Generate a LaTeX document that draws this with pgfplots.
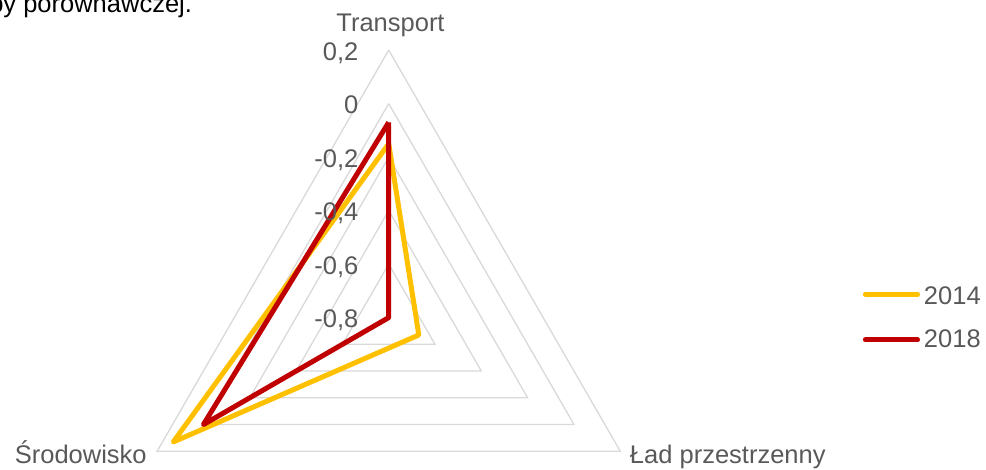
\documentclass[border=0pt]{standalone}
\usepackage{fontspec}
\setmainfont{Liberation Sans}
\usepackage{pgfplots}
\usepackage{pgfplotstable}
\pgfplotsset{compat=1.18}
\definecolor{cA}{HTML}{FFC000}
\definecolor{cB}{HTML}{C00000}
\definecolor{txt}{HTML}{595959}
\definecolor{gridc}{HTML}{D9D9D9}
\tikzset{lbl/.style={font=\fontsize{25.5}{30}\selectfont, text=txt, inner sep=0pt, outer sep=0pt}}
\pgfplotstableread{
angle v2014 v2018
90 -0.15 -0.07
-30 -0.67 -0.80
210 0.13 0.00
90 -0.15 -0.07
}\radardata
\begin{document}
\begin{tikzpicture}
\useasboundingbox (0,0) rectangle (986pt,470pt);
\clip (0,0) rectangle (986pt,470pt);
\begin{axis}[
  at={(0pt,0pt)}, anchor=south west,
  x=267.5pt, y=267.5pt,
  xmin=-1.4531, xmax=2.2329, ymin=-0.5697, ymax=1.1873,
  hide axis, clip=false,
]
\pgfplotsinvokeforeach{0.2,0.4,0.6,0.8,1.0}{
  \addplot[gridc, line width=1.3pt, line join=miter, data cs=polar] coordinates {(90,#1) (-30,#1) (210,#1) (90,#1)};
}
\addplot[cA, line width=5pt, line join=round] table[x expr={cos(\thisrow{angle})*(\thisrow{v2014}+0.8)}, y expr={sin(\thisrow{angle})*(\thisrow{v2014}+0.8)}] {\radardata};
\addplot[cB, line width=5pt, line join=round] table[x expr={cos(\thisrow{angle})*(\thisrow{v2018}+0.8)}, y expr={sin(\thisrow{angle})*(\thisrow{v2018}+0.8)}] {\radardata};
% radial tick labels
\node[lbl, anchor=base east] at (axis cs:-0.1136,{1.0-0.0374}) {0,2};
\node[lbl, anchor=base east] at (axis cs:-0.1136,{0.8-0.0374}) {0};
\node[lbl, anchor=base east] at (axis cs:-0.1136,{0.6-0.0374}) {-0,2};
\node[lbl, anchor=base east] at (axis cs:-0.1136,{0.4-0.0374}) {-0,4};
\node[lbl, anchor=base east] at (axis cs:-0.1136,{0.2-0.0374}) {-0,6};
\node[lbl, anchor=base east] at (axis cs:-0.1136,{0.0-0.0374}) {-0,8};
% category labels
\node[lbl, anchor=base] at (axis cs:0.0067,1.0695) {Transport};
\node[lbl, anchor=base west] at (axis cs:0.902,-0.547) {Ład przestrzenny};
\node[lbl, anchor=base east] at (axis cs:-0.9047,-0.547) {Środowisko};
% legend
\draw[cA, line width=5pt, line cap=round] (axis cs:1.782,0.0871) -- (axis cs:1.977,0.0871);
\draw[cB, line width=5pt, line cap=round] (axis cs:1.782,-0.0837) -- (axis cs:1.977,-0.0837);
\node[lbl, anchor=base west] at (axis cs:2.001,0.0508) {2014};
\node[lbl, anchor=base west] at (axis cs:2.001,-0.110) {2018};
% cut-off text from page above
\node[lbl, anchor=base east, text=black] at (axis cs:-0.7353,1.1413) {grupy porównawczej.};
\end{axis}
\end{tikzpicture}
\end{document}
